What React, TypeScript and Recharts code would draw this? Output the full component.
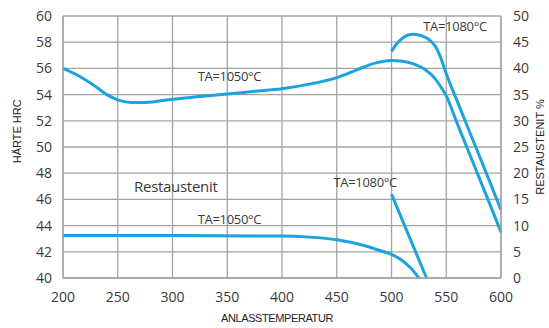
import { CartesianGrid, Line, LineChart, ReferenceDot, XAxis, YAxis } from "recharts";

// Anlasstemperatur (°C)
const X_TICKS = [200, 250, 300, 350, 400, 450, 500, 550, 600];
const HRC_TICKS = [40, 42, 44, 46, 48, 50, 52, 54, 56, 58, 60];
const RA_TICKS = [0, 5, 10, 15, 20, 25, 30, 35, 40, 45, 50];

// Härte HRC, TA=1050°C
const HRC_1050_T = [200, 215, 230, 240, 250, 262, 275, 300, 325, 350, 375, 400, 425, 450, 470, 485, 500, 510, 520, 530, 540, 545, 550, 560, 575, 590, 600];
const HRC_1050 = [56.0, 55.4, 54.6, 54.0, 53.6, 53.4, 53.4, 53.65, 53.85, 54.05, 54.25, 54.45, 54.8, 55.3, 55.95, 56.4, 56.6, 56.55, 56.35, 55.95, 55.2, 54.6, 53.9, 51.8, 48.7, 45.6, 43.5];

// Härte HRC, TA=1080°C
const HRC_1080_T = [500, 505, 510, 515, 520, 525, 530, 535, 540, 545, 550, 560, 575, 590, 600];
const HRC_1080 = [57.3, 57.9, 58.3, 58.55, 58.6, 58.55, 58.4, 58.15, 57.7, 56.8, 55.6, 53.5, 50.4, 47.3, 45.2];

// Restaustenit %, TA=1050°C
const RA_1050_T = [200, 300, 400, 425, 450, 475, 490, 500, 510, 518, 525];
const RA_1050 = [8.1, 8.1, 8.0, 7.8, 7.3, 6.2, 5.2, 4.5, 3.3, 1.8, 0];

// Restaustenit %, TA=1080°C
const RA_1080_T = [500, 532];
const RA_1080 = [16, 0];

const zip = (t: number[], v: number[]) => t.map((x, i) => ({ t: x, v: v[i] }));

const LINE = "#1ca3de";
const GRID = "#a3a3a3";
const TEXT = "#3a3a3a";
const FONT = "'Open Sans', 'Liberation Sans', sans-serif";

const tickStyle = { fill: TEXT, fontSize: 14, fontFamily: FONT };

function note(value: string, size = 13, weight = 400) {
  return {
    position: "center" as const,
    content: (p: any) => (
      <text
        x={p.viewBox.x}
        y={p.viewBox.y}
        textAnchor="middle"
        dominantBaseline="central"
        fill={TEXT}
        fontSize={size}
        fontWeight={weight}
        fontFamily={FONT}
        letterSpacing={-0.3}
      >
        {value}
      </text>
    ),
  };
}

export default function App() {
  return (
    <div style={{ position: "absolute", left: 0, top: 0, background: "#fff" }}>
      <LineChart width={549} height={328} margin={{ top: 16, right: 0, bottom: 0, left: 0 }}>
        <CartesianGrid stroke={GRID} strokeWidth={1.3} yAxisId="hrc" />
        <XAxis
          type="number"
          dataKey="t"
          domain={[200, 600]}
          ticks={X_TICKS}
          height={50}
          tick={tickStyle}
          tickLine={false}
          tickMargin={8}
          axisLine={{ stroke: GRID, strokeWidth: 1.3 }}
          allowDuplicatedCategory={false}
          label={{
            content: (p: any) => (
              <text
                x={p.viewBox.x + p.viewBox.width / 2 - 5}
                y={p.viewBox.y + 44}
                textAnchor="middle"
                fill="#222"
                fontSize={11}
                fontFamily="'Liberation Sans', sans-serif"
                letterSpacing={-0.4}
              >
                ANLASSTEMPERATUR
              </text>
            ),
          }}
        />
        <YAxis
          yAxisId="hrc"
          orientation="left"
          domain={[40, 60]}
          ticks={HRC_TICKS}
          width={63}
          tick={tickStyle}
          tickLine={false}
          tickMargin={5}
          axisLine={{ stroke: GRID, strokeWidth: 1.3 }}
          label={{
            content: (p: any) => (
              <text
                transform={`translate(${p.viewBox.x + 21},${p.viewBox.y + p.viewBox.height * 0.44}) rotate(-90)`}
                textAnchor="middle"
                fill="#222"
                fontSize={11}
                fontFamily="'Liberation Sans', sans-serif"
              >
                HÄRTE  HRC
              </text>
            ),
          }}
        />
        <YAxis
          yAxisId="ra"
          orientation="right"
          domain={[0, 50]}
          ticks={RA_TICKS}
          width={48}
          tick={tickStyle}
          tickLine={false}
          tickMargin={6}
          axisLine={{ stroke: GRID, strokeWidth: 1.3 }}
          label={{
            content: (p: any) => (
              <text
                transform={`translate(${p.viewBox.x + 43},${p.viewBox.y + p.viewBox.height * 0.5}) rotate(-90)`}
                textAnchor="middle"
                fill="#222"
                fontSize={11}
                fontFamily="'Liberation Sans', sans-serif"
              >
                RESTAUSTENIT %
              </text>
            ),
          }}
        />

        <Line yAxisId="hrc" data={zip(HRC_1050_T, HRC_1050)} dataKey="v" type="monotone" stroke={LINE} strokeWidth={3} dot={false} isAnimationActive={false} />
        <Line yAxisId="hrc" data={zip(HRC_1080_T, HRC_1080)} dataKey="v" type="monotone" stroke={LINE} strokeWidth={3} dot={false} isAnimationActive={false} />
        <Line yAxisId="ra" data={zip(RA_1050_T, RA_1050)} dataKey="v" type="monotone" stroke={LINE} strokeWidth={3} dot={false} isAnimationActive={false} />
        <Line yAxisId="ra" data={zip(RA_1080_T, RA_1080)} dataKey="v" type="linear" stroke={LINE} strokeWidth={3} dot={false} isAnimationActive={false} />

        <ReferenceDot yAxisId="hrc" x={352} y={55.4} r={0} label={note("TA=1050°C")} />
        <ReferenceDot yAxisId="hrc" x={558} y={59.2} r={0} label={note("TA=1080°C")} />
        <ReferenceDot yAxisId="hrc" x={303} y={47.0} r={0} label={note("Restaustenit", 15)} />
        <ReferenceDot yAxisId="hrc" x={352} y={44.5} r={0} label={note("TA=1050°C")} />
        <ReferenceDot yAxisId="hrc" x={476} y={47.3} r={0} label={note("TA=1080°C")} />
      </LineChart>
    </div>
  );
}
